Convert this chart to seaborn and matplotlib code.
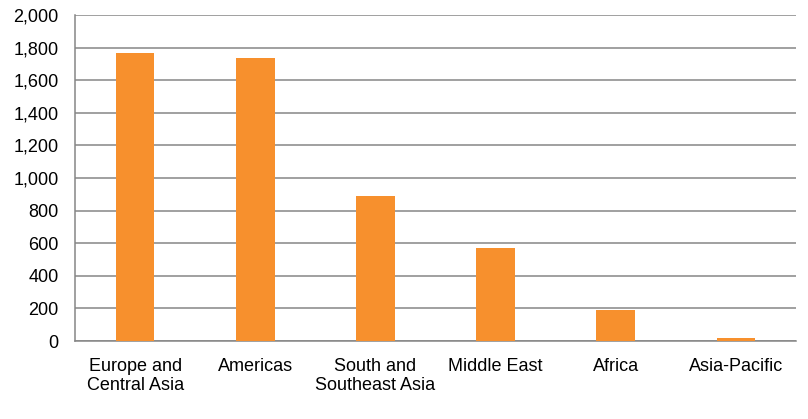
import matplotlib
matplotlib.use("Agg")
import matplotlib.pyplot as plt
import seaborn as sns
import pandas as pd
from matplotlib.ticker import FuncFormatter, MultipleLocator

regions = ["Europe and\nCentral Asia", "Americas", "South and\nSoutheast Asia",
           "Middle East", "Africa", "Asia-Pacific"]
values = [1767, 1736, 891, 571, 192, 19]

df = pd.DataFrame({"region": regions, "value": values})

sns.set_style("white")
plt.rcParams["font.family"] = ["Liberation Sans", "DejaVu Sans"]

fig = plt.figure(figsize=(8.08, 4.19), dpi=100)
ax = fig.add_axes([0.093, 0.186, 0.892, 0.778])

sns.barplot(data=df, x="region", y="value", color="#F7902D", saturation=1,
            width=0.32, linewidth=0, ax=ax, zorder=3)

ax.set_ylim(0, 2000)
ax.set_xlim(-0.5, len(regions) - 0.5)
ax.yaxis.set_major_locator(MultipleLocator(200))
ax.yaxis.set_major_formatter(FuncFormatter(lambda v, p: f"{int(v):,}"))
ax.grid(axis="y", color="#868686", linewidth=1.1, zorder=0)
ax.set_axisbelow(True)

for s in ["top", "right"]:
    ax.spines[s].set_visible(False)
for s in ["left", "bottom"]:
    ax.spines[s].set_color("#868686")
    ax.spines[s].set_linewidth(1.1)

ax.tick_params(axis="y", labelsize=13, length=0, pad=12, colors="black")
ax.tick_params(axis="x", labelsize=13, length=0, pad=12, colors="black")
ax.set_xlabel("")
ax.set_ylabel("")

fig.savefig("out.png", dpi=100)
